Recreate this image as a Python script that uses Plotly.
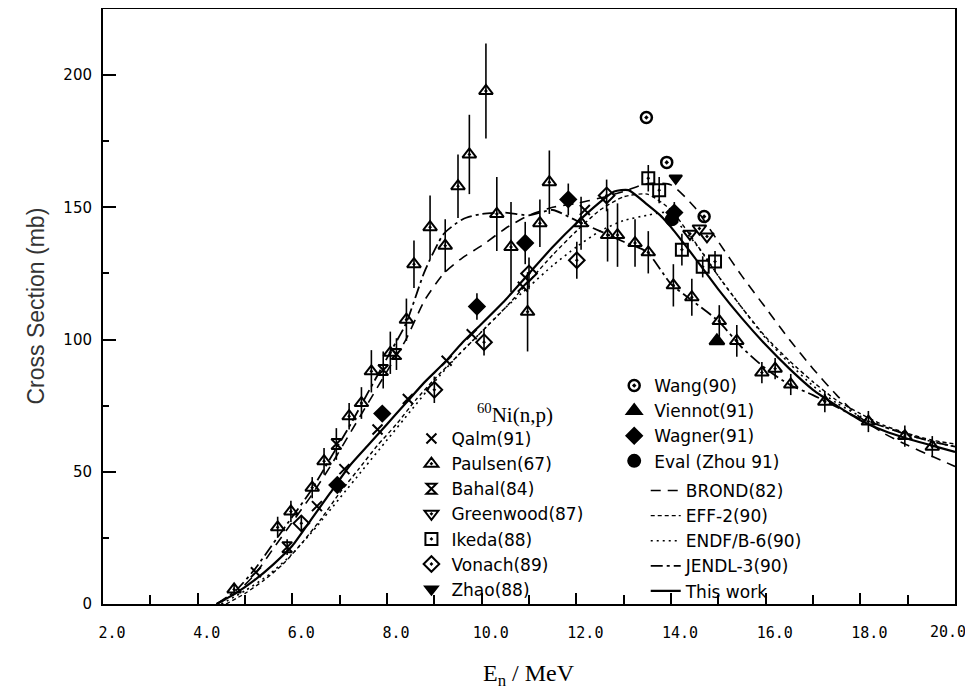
import plotly.graph_objects as go

# ---------------- data ----------------
paulsen_x = [4.77, 5.69, 5.97, 6.42, 6.67, 7.2, 7.46, 7.67, 8.07, 8.41, 8.57, 8.91, 9.23, 9.5, 9.74, 10.09, 10.32, 10.62, 10.97, 11.23, 11.43,
             12.1, 12.66, 12.87, 13.24, 13.52, 14.05, 14.44, 15.02, 15.39, 15.92, 16.2, 16.53, 17.25, 18.17, 18.94, 19.52]
paulsen_y = [5.5, 29, 35, 44, 54, 71, 76, 88, 95, 107.5, 128.5, 142.5, 135.5, 158, 170, 194, 147.5, 135, 110.5, 144, 159.5,
             144, 139.5, 139.5, 136.5, 133, 120.5, 116, 107, 99.5, 87.5, 89, 83, 76.5, 69, 63.5, 59.5]
paulsen_err = [2, 4, 4, 4, 5, 5, 6, 8, 8, 8, 9, 12, 10, 12, 15, 18, 14, 17, 15, 9, 12,
               10, 10, 12, 9, 8, 8, 7, 6, 6, 4, 4, 4, 4, 4, 4, 4]

qalm_x = [5.23, 6.52, 7.1, 7.8, 8.44, 9.26, 9.79, 10.87, 12.18]
qalm_y = [12, 37, 51, 66, 77.5, 92, 102, 120, 149]

bahal_x = [5.89, 6.93, 7.92, 8.2]
bahal_y = [21.5, 60.5, 88.5, 94.5]
bahal_err = [3, 6, 7, 6]

greenwood_x = [14.4, 14.6, 14.76]
greenwood_y = [140, 142, 139]

ikeda_x = [13.52, 13.75, 14.23, 14.67, 14.93]
ikeda_y = [161, 156.5, 134, 127.5, 129.5]
ikeda_err = [5, 5, 6, 4, 4]

vonach_x = [6.19, 9.0, 10.05, 11.0, 12.01, 12.64]
vonach_y = [30.5, 81, 99, 125, 130, 154.5]
vonach_err = [3, 5, 5, 6, 7, 6]

zhao_x = [14.1]
zhao_y = [161]

wang_x = [13.48, 13.91, 14.7]
wang_y = [184, 167, 146.5]

viennot_x = [14.97]
viennot_y = [99.5]

wagner_x = [6.95, 7.9, 9.9, 10.92, 11.83, 14.07]
wagner_y = [45, 72, 112.5, 136.5, 153, 148]
wagner_err = [2, 2, 5, 8, 6, 4]

eval_x = [14.02]
eval_y = [145.5]

brond_x = [4.4, 4.8, 5.2, 5.6, 6.0, 6.4, 6.8, 7.2, 7.6, 8.0, 8.4, 8.8, 9.2, 9.6, 10.0, 10.5, 11.0, 11.5, 12.0, 12.5,
           13.0, 13.5, 14.0, 14.5, 15.0, 15.5, 16.0, 16.5, 17.0, 17.5, 18.0, 18.5, 19.0, 19.5, 20.0]
brond_y = [0, 4, 11, 21, 31, 41, 52, 64, 76, 88, 100, 115, 125, 131, 135.5, 142, 147, 150, 151.5, 153.5,
           156, 159, 158.5, 150, 137, 124, 112, 100, 89, 79, 70.5, 64.5, 60, 56, 52]

eff2_x = [4.6, 5.0, 5.4, 5.8, 6.2, 6.6, 7.0, 7.4, 7.8, 8.2, 8.6, 9.0, 9.5, 10.0, 10.5, 11.0, 11.5, 12.0, 12.5, 13.0,
          13.5, 14.0, 14.5, 15.0, 15.5, 16.0, 16.5, 17.0, 17.5, 18.0, 18.5, 19.0, 19.5, 20.0]
eff2_y = [0, 4, 9, 15, 23, 32, 42, 51, 60, 68, 77, 85, 94, 103, 112, 122, 132, 141, 149, 154,
          155, 149, 137, 124, 112, 101, 92, 84, 77, 72, 67.5, 64.5, 62, 60.5]

endf_x = [4.5, 5.0, 5.5, 6.0, 6.5, 7.0, 7.5, 8.0, 8.5, 9.0, 9.5, 10.0, 10.5, 11.0, 11.5, 12.0, 12.5, 13.0, 13.5, 13.9,
          14.3, 14.7, 15.0, 15.5, 16.0, 16.5, 17.0, 17.5, 18.0, 18.5, 19.0, 19.5, 20.0]
endf_y = [0, 5, 11, 19, 29, 40, 51, 62, 73, 84, 94, 103, 112, 120, 128, 135, 141, 145, 147, 148,
          141, 132, 124, 112, 100.5, 91, 82.5, 76, 71, 67, 64, 61.5, 59.5]

jendl_x = [4.4, 4.8, 5.2, 5.6, 6.0, 6.4, 6.8, 7.2, 7.6, 8.0, 8.4, 8.8, 9.2, 9.6, 10.0, 10.5, 11.0, 11.5, 12.0, 12.5,
           13.0, 13.5, 14.0, 14.5, 15.0, 15.5, 16.0, 16.5, 17.0, 17.5, 18.0, 18.5, 19.0, 19.5, 20.0]
jendl_y = [0, 5, 13, 23, 33, 43, 55, 67, 80, 93, 106, 126, 140, 145.5, 147.5, 148, 147, 149, 145, 141,
           137, 133, 121, 114, 107, 97, 89, 83, 79, 74.5, 70, 67, 64, 61.5, 59.5]

work_x = [4.4, 4.8, 5.2, 5.6, 6.0, 6.4, 6.8, 7.2, 7.6, 8.0, 8.4, 8.8, 9.2, 9.6, 10.0, 10.5, 11.0, 11.5, 12.0, 12.5,
          12.8, 13.1, 13.5, 13.8, 14.0, 14.5, 15.0, 15.5, 16.0, 16.5, 17.0, 17.5, 18.0, 18.5, 19.0, 19.5, 20.0]
work_y = [0, 4, 9, 15, 22, 32, 42, 52, 60, 68, 76, 84, 91, 99, 106, 115, 125, 135, 144, 152,
          156, 156.5, 151, 146.5, 142.5, 131, 119, 108, 98, 89, 81, 75, 69.5, 65.5, 62.5, 60, 57.5]

NB2 = "\u00a0\u00a0"
x_tick_vals = [2, 4, 6, 8, 10, 12, 14, 16, 18]
x_tick_text = [NB2 + "2.0", NB2 + "4.0", NB2 + "6.0", NB2 + "8.0", NB2 + "10.0", NB2 + "12.0", NB2 + "14.0",
               NB2 + "16.0", NB2 + "18.0"]
x_last_tick = 20
x_last_text = "20.0"
y_tick_vals = [0, 50, 100, 150, 200]

# ---------------- figure ----------------
fig = go.Figure()
BLK = "black"


def err(a):
    return dict(type="data", array=a, thickness=1.6, width=0, color=BLK)


def pts(x, y, name, symbol, legend, size=12, e=None, lw=2):
    fig.add_trace(go.Scatter(
        x=x, y=y, mode="markers", name=name, legend=legend,
        marker=dict(symbol=symbol, size=size, color=BLK, line=dict(width=lw, color=BLK)),
        error_y=err(e) if e is not None else None,
    ))


def crv(x, y, name, dash, width=1.6):
    fig.add_trace(go.Scatter(
        x=x, y=y, mode="lines", name=name, legend="legend3",
        line=dict(color=BLK, width=width, dash=dash, shape="spline", smoothing=0.6),
    ))


crv(brond_x, brond_y, "BROND(82)", "10px,7px")
crv(eff2_x, eff2_y, "EFF-2(90)", "4px,3px", 1.4)
crv(endf_x, endf_y, "ENDF/B-6(90)", "2px,4px", 1.6)
crv(jendl_x, jendl_y, "JENDL-3(90)", "12px,4px,3px,4px", 1.8)
crv(work_x, work_y, "This work", "solid", 2.2)

pts(qalm_x, qalm_y, "Qalm(91)", "x-thin-open", "legend", size=10, lw=2)
pts(paulsen_x, paulsen_y, "Paulsen(67)", "triangle-up-open-dot", "legend", e=paulsen_err)
pts(bahal_x, bahal_y, "Bahal(84)", "hourglass-open", "legend", size=10, e=bahal_err)
pts(greenwood_x, greenwood_y, "Greenwood(87)", "triangle-down-open-dot", "legend")
pts(ikeda_x, ikeda_y, "Ikeda(88)", "square-open-dot", "legend", e=ikeda_err)
pts(vonach_x, vonach_y, "Vonach(89)", "diamond-open-dot", "legend", e=vonach_err)
pts(zhao_x, zhao_y, "Zhao(88)", "triangle-down", "legend", size=11)

pts(wang_x, wang_y, "Wang(90)", "circle-open-dot", "legend2", size=11, lw=2.5)
pts(viennot_x, viennot_y, "Viennot(91)", "triangle-up", "legend2", size=13)
pts(wagner_x, wagner_y, "Wagner(91)", "diamond", "legend2", size=12, e=wagner_err)
pts(eval_x, eval_y, "Eval (Zhou 91)", "circle", "legend2", size=12)

leg_font = dict(family="DejaVu Sans", size=17, color=BLK)
common_leg = dict(xanchor="left", yanchor="top", bgcolor="rgba(0,0,0,0)", font=leg_font,
                  tracegroupgap=0, itemclick=False, itemdoubleclick=False)
tick_font = dict(family="DejaVu Sans Mono", size=15, color=BLK)

# page body adds an 8px offset; figure sized/margined so the plot box lands at x 103..955, y 9..604
fig.update_layout(
    width=965, height=684, autosize=False,
    margin=dict(l=95, r=18, t=1, b=88, autoexpand=False),
    plot_bgcolor="white", paper_bgcolor="white",
    font=dict(family="Liberation Sans", color=BLK),
    showlegend=True,
    legend=dict(x=0.362, y=0.3076, **common_leg),
    legend2=dict(x=0.600, y=0.3966, **common_leg),
    legend3=dict(x=0.637, y=0.2202, **common_leg),
    xaxis=dict(
        range=[2, 20], showgrid=False, zeroline=False, automargin=False,
        showline=True, linecolor=BLK, linewidth=2, mirror=True,
        tickvals=x_tick_vals, ticktext=x_tick_text,
        ticks="inside", ticklen=11, tickwidth=1.5, tickcolor=BLK,
        minor=dict(tickvals=list(range(3, 20, 2)), ticks="inside", ticklen=9, tickwidth=1.5, tickcolor=BLK),
        tickfont=tick_font,
        ticklabelstandoff=14,
    ),
    yaxis=dict(
        range=[0, 225], showgrid=False, zeroline=False, automargin=False,
        showline=True, linecolor=BLK, linewidth=2, mirror=True,
        tickvals=y_tick_vals,
        ticks="inside", ticklen=13, tickwidth=1.5, tickcolor=BLK,
        minor=dict(tickvals=[25, 75, 125, 175], ticks="inside", ticklen=6, tickwidth=1.5, tickcolor=BLK),
        tickfont=dict(family="DejaVu Sans", size=15, color=BLK),
        ticklabelstandoff=6,
    ),
    annotations=[
        dict(text=x_last_text, xref="x", yref="paper", x=x_last_tick, y=0, xanchor="center", yanchor="middle",
             xshift=-7, yshift=-28, showarrow=False, font=tick_font),
        dict(text="Cross Section (mb)", xref="paper", yref="paper", x=-0.0798, y=0.5,
             textangle=-90, showarrow=False, xanchor="center", yanchor="middle",
             font=dict(family="Liberation Sans", size=23, color="#333")),
        dict(text="E<sub>n</sub> / MeV", xref="paper", yref="paper", x=0.5, y=-0.119,
             showarrow=False, xanchor="center", yanchor="middle",
             font=dict(family="Liberation Serif", size=24, color=BLK)),
        dict(text="<sup>60</sup>Ni(n,p)", xref="paper", yref="paper", x=0.4836, y=0.321,
             showarrow=False, xanchor="center", yanchor="middle",
             font=dict(family="Liberation Serif", size=21, color=BLK)),
    ],
)

fig.write_html("out.html", config={"responsive": False})
